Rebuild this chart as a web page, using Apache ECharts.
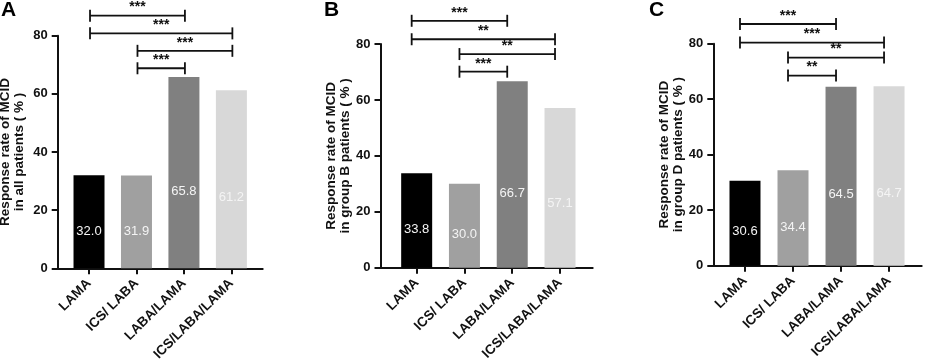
<!DOCTYPE html>
<html>
<head>
<meta charset="utf-8">
<script src="https://cdn.jsdelivr.net/npm/echarts@6/dist/echarts.min.js"></script>
<style>
  html, body { margin: 0; padding: 0; background: #fff; }
  #chart { width: 927px; height: 361px; }
</style>
</head>
<body>
<div id="chart"></div>
<script>
// data
const categories = ['LAMA', 'ICS/ LABA', 'LABA/LAMA', 'ICS/LABA/LAMA'];
const yTicks = [0, 20, 40, 60, 80];

const valuesA = [32.0, 31.9, 65.8, 61.2];
const valuesB = [33.8, 30.0, 66.7, 57.1];
const valuesC = [30.6, 34.4, 64.5, 64.7];

// significance brackets: [from bar, to bar, height (%), stars]
const bracketsA = [[0, 2, 86.9, '***'], [0, 3, 80.8, '***'], [1, 3, 74.8, '***'], [1, 2, 68.8, '***']];
const bracketsB = [[0, 2, 88.3, '***'], [0, 3, 81.7, '**'], [1, 3, 76.4, '**'], [1, 2, 70.1, '***']];
const bracketsC = [[0, 2, 87.1, '***'], [0, 3, 80.4, '***'], [1, 3, 75.0, '**'], [1, 2, 68.5, '**']];

const yNames = [
  'Response rate of MCID\nin all patients ( % )',
  'Response rate of MCID\nin group B patients ( % )',
  'Response rate of MCID\nin group D patients ( % )'
];

const barColors = ['#000000', '#a0a0a0', '#808080', '#d8d8d8'];
const font = '"Liberation Sans", Arial, sans-serif';
const ink = '#111';

// panel layout (pixels) and x range around the bars
const panels = [
  {letter: 'A', letterLeft: 1, values: valuesA, brackets: bracketsA, left: 57.7, top: 35.7, width: 205, height: 232.6, min: -0.66, max: 3.66, nameGap: 31, shift: 1},
  {letter: 'B', letterLeft: 324, values: valuesB, brackets: bracketsB, left: 380.5, top: 44, width: 212.2, height: 223.7, min: -0.757, max: 3.684, nameGap: 23, shift: -5},
  {letter: 'C', letterLeft: 649, values: valuesC, brackets: bracketsC, left: 713.3, top: 43.7, width: 208.4, height: 222, min: -0.66, max: 3.68, nameGap: 27, shift: -5}
];

const chart = echarts.init(document.getElementById('chart'));

function bracketRenderer(list, shift) {
  return function (params, api) {
    const b = list[params.dataIndex];
    const p1 = api.coord([b[0], b[2]]);
    const p2 = api.coord([b[1], b[2]]);
    const x1 = p1[0] + shift, x2 = p2[0] + shift, y = p1[1];
    const st = {stroke: ink, lineWidth: 1.8};
    return {
      type: 'group',
      children: [
        {type: 'line', shape: {x1: x1, y1: y, x2: x2, y2: y}, style: st},
        {type: 'line', shape: {x1: x1, y1: y - 6, x2: x1, y2: y + 6}, style: st},
        {type: 'line', shape: {x1: x2, y1: y - 6, x2: x2, y2: y + 6}, style: st},
        {type: 'text', x: (x1 + x2) / 2, y: y - 1,
          style: {text: b[3], fill: ink, font: 'bold 14px ' + font, align: 'center', verticalAlign: 'bottom'}}
      ]
    };
  };
}

const option = {
  animation: false,
  title: panels.map(p => ({
    text: p.letter, left: p.letterLeft, top: 0, padding: 0,
    textStyle: {fontFamily: font, fontSize: 21, fontWeight: 'bold', color: '#000'}
  })),
  grid: panels.map(p => ({
    left: p.left, top: p.top, width: p.width, height: p.height,
    containLabel: false, outerBoundsMode: 'none'
  })),
  xAxis: panels.map((p, i) => ({
    type: 'value', gridIndex: i, min: p.min, max: p.max,
    splitLine: {show: false},
    axisLine: {show: true, onZero: false, lineStyle: {color: ink, width: 2}},
    axisTick: {show: true, length: 6, customValues: [0, 1, 2, 3], lineStyle: {color: ink, width: 2}},
    axisLabel: {
      customValues: [0, 1, 2, 3], rotate: 45, margin: 13,
      fontFamily: font, fontSize: 13.5, fontWeight: 'bold', color: ink,
      formatter: v => categories[v]
    }
  })),
  yAxis: panels.map((p, i) => ({
    type: 'value', gridIndex: i, min: 0, max: 80, interval: 20,
    name: yNames[i], nameLocation: 'middle', nameGap: p.nameGap,
    nameTextStyle: {fontFamily: font, fontSize: 13.5, fontWeight: 'bold', color: ink, lineHeight: 14},
    splitLine: {show: false},
    axisLine: {show: true, onZero: false, lineStyle: {color: ink, width: 2}},
    axisTick: {show: true, length: 6, lineStyle: {color: ink, width: 2}},
    axisLabel: {
      margin: 10, fontFamily: font, fontSize: 13, fontWeight: 'bold', color: ink,
      customValues: yTicks
    }
  })),
  series: panels.map((p, i) => ({
    type: 'bar', xAxisIndex: i, yAxisIndex: i, barWidth: 31,
    data: p.values.map((v, k) => ({value: [k, v], itemStyle: {color: barColors[k]}})),
    label: {
      show: true, position: ['50%', '60%'], align: 'center', verticalAlign: 'middle',
      color: '#f4f4f4', fontFamily: font, fontSize: 13,
      formatter: d => d.value[1].toFixed(1)
    }
  })).concat(panels.map((p, i) => ({
    type: 'custom', xAxisIndex: i, yAxisIndex: i, clip: false, silent: true,
    data: p.brackets.map(b => [b[0], b[1], b[2]]),
    renderItem: bracketRenderer(p.brackets, p.shift)
  })))
};

chart.setOption(option);
</script>
</body>
</html>
